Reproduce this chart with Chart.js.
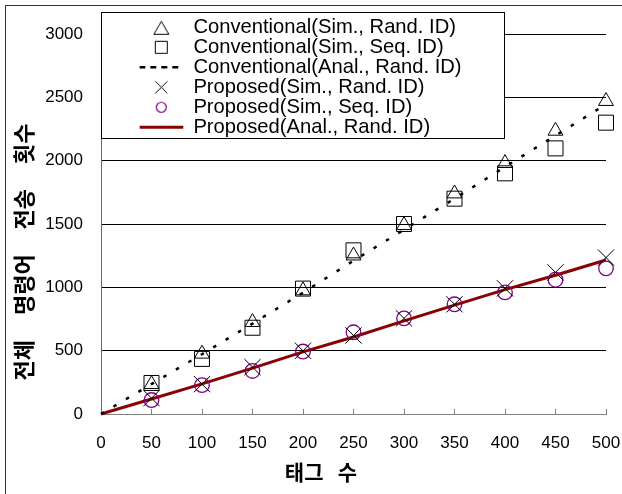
<!DOCTYPE html>
<html>
<head>
<meta charset="utf-8">
<script src="https://cdn.jsdelivr.net/npm/chart.js@4.4.1/dist/chart.umd.min.js"></script>
<style>
  html, body { margin: 0; padding: 0; background: #ffffff; }
  #wrap { width: 622px; height: 494px; position: relative; }
</style>
</head>
<body>
<div id="wrap"><canvas id="c" width="622" height="494"></canvas></div>
<script>
// ---------------- data ----------------
const tagCounts      = [50, 100, 150, 200, 250, 300, 350, 400, 450, 500];
const analTagCounts  = [0, 50, 100, 150, 200, 250, 300, 350, 400, 450, 500];
const convSimRand    = [235, 475, 725, 975, 1250, 1490, 1740, 1980, 2235, 2470];
const convSimSeq     = [245, 435, 681, 990, 1292, 1500, 1700, 1900, 2097, 2300];
const convAnalRand   = [0, 236, 472, 714, 958, 1210, 1455, 1700, 1951, 2198, 2445];
const propSimRand    = [125, 236, 370, 499, 620, 755, 866, 992, 1118, 1235];
const propSimSeq     = [110, 228, 340, 493, 645, 755, 866, 960, 1060, 1150];
const propAnalRand   = [0, 118, 238, 362, 490, 608, 735, 860, 982, 1095, 1216];
const seriesLabels = [
  'Conventional(Sim., Rand. ID)',
  'Conventional(Sim., Seq. ID)',
  'Conventional(Anal., Rand. ID)',
  'Proposed(Sim., Rand. ID)',
  'Proposed(Sim., Seq. ID)',
  'Proposed(Anal., Rand. ID)'
];
const xTickValues = [0, 50, 100, 150, 200, 250, 300, 350, 400, 450, 500];
const yTickValues = [0, 500, 1000, 1500, 2000, 2500, 3000];
const xTitle = '태그   수';
const yTitle = '전체     명령어     전송     횟수';

// ---------------- helpers ----------------
function pairs(xs, ys) { return xs.map((x, i) => ({ x: x, y: ys[i] })); }
// small legend marker images (19x19, centred on 9.5)
function markerImg(kind, color, lw) {
  const c = document.createElement('canvas');
  c.width = 19; c.height = 19;
  const g = c.getContext('2d');
  g.strokeStyle = color; g.lineWidth = lw;
  g.beginPath();
  if (kind === 'triangle') {
    g.moveTo(9.5, 3.5); g.lineTo(17, 16.5); g.lineTo(2, 16.5); g.closePath();
  } else if (kind === 'square') {
    g.rect(3.5, 3.5, 12, 12);
  } else if (kind === 'cross') {
    g.moveTo(3.5, 3.5); g.lineTo(15.5, 15.5); g.moveTo(15.5, 3.5); g.lineTo(3.5, 15.5);
  } else if (kind === 'circle') {
    g.arc(9.5, 9.5, 5, 0, Math.PI * 2);
  }
  g.stroke();
  return c;
}

Chart.defaults.font.family = '"Liberation Sans", Arial, sans-serif';
Chart.defaults.color = '#000';

const LEGEND_FRAME = { x: 101, y: 12, w: 403, h: 126 };

const layoutPlugin = {
  id: 'layoutPlugin',
  afterLayout(chart) {
    const lg = chart.legend;
    if (!lg) return;
    lg.left = 139.5; lg.top = 17.4;
    lg.width = 370; lg.height = 130;
    lg.right = lg.left + lg.width; lg.bottom = lg.top + lg.height;
  },
  afterDatasetsDraw(chart) {
    const ctx = chart.ctx;
    const f = LEGEND_FRAME;
    ctx.save();
    ctx.fillStyle = '#ffffff';
    ctx.fillRect(f.x, f.y, f.w, f.h);
    ctx.strokeStyle = '#000000';
    ctx.lineWidth = 1;
    ctx.strokeRect(f.x + 0.5, f.y + 0.5, f.w, f.h);
    ctx.restore();
    if (chart.legend) chart.legend.draw();
  },
  afterDraw(chart) {
    const ctx = chart.ctx;
    ctx.save();
    ctx.strokeStyle = '#333333';
    ctx.lineWidth = 1;
    ctx.strokeRect(5.5, 5.5, 700, 600);
    ctx.fillStyle = '#000000';
    ctx.textAlign = 'center';
    ctx.textBaseline = 'middle';
    ctx.font = 'bold 21px "Noto Sans CJK KR", sans-serif';
    ctx.fillText(xTitle, 321, 472);
    ctx.translate(24, 252);
    ctx.rotate(-Math.PI / 2);
    ctx.font = 'bold 22px "Noto Sans CJK KR", sans-serif';
    ctx.fillText(yTitle, 0, 0);
    ctx.restore();
  }
};

const legTri = markerImg('triangle', '#000000', 1);
const legSq  = markerImg('square', '#000000', 1);
const legX   = markerImg('cross', '#000000', 1);
const legCi  = markerImg('circle', '#800080', 1.2);

const cfg = {
  type: 'scatter',
  data: {
    datasets: [
      { label: seriesLabels[0], data: pairs(tagCounts, convSimRand), showLine: false,
        pointStyle: 'triangle', pointRadius: 8.6, pointHoverRadius: 8.6,
        borderColor: '#000000', backgroundColor: 'rgba(0,0,0,0)', borderWidth: 1, clip: false },
      { label: seriesLabels[1], data: pairs(tagCounts, convSimSeq), showLine: false,
        pointStyle: 'rect', pointRadius: 10.6, pointHoverRadius: 10.6,
        borderColor: '#000000', backgroundColor: 'rgba(0,0,0,0)', borderWidth: 1, clip: false },
      { label: seriesLabels[2], data: pairs(analTagCounts, convAnalRand), showLine: true,
        pointStyle: 'line', pointRadius: 0, pointHoverRadius: 0,
        borderColor: '#000000', backgroundColor: 'rgba(0,0,0,0)', borderWidth: 2.5,
        borderDash: [3.5, 11], tension: 0, clip: false },
      { label: seriesLabels[3], data: pairs(tagCounts, propSimRand), showLine: false,
        pointStyle: 'crossRot', pointRadius: 11.5, pointHoverRadius: 11.5,
        borderColor: '#000000', backgroundColor: 'rgba(0,0,0,0)', borderWidth: 1, clip: false },
      { label: seriesLabels[4], data: pairs(tagCounts, propSimSeq), showLine: false,
        pointStyle: 'circle', pointRadius: 7.3, pointHoverRadius: 7.3,
        borderColor: '#800080', backgroundColor: 'rgba(0,0,0,0)', borderWidth: 1.3, clip: false },
      { label: seriesLabels[5], data: pairs(analTagCounts, propAnalRand), showLine: true,
        pointStyle: 'line', pointRadius: 0, pointHoverRadius: 0,
        borderColor: '#8b0000', backgroundColor: 'rgba(0,0,0,0)', borderWidth: 3, tension: 0, clip: false }
    ]
  },
  options: {
    responsive: false,
    animation: false,
    devicePixelRatio: 1,
    events: [],
    layout: { padding: { top: 34, right: 16, bottom: 0, left: 0 } },
    plugins: {
      tooltip: { enabled: false },
      title: { display: false },
      legend: {
        display: true,
        position: 'chartArea',
        align: 'start',
        labels: {
          usePointStyle: true,
          pointStyleWidth: 44,
          boxHeight: 12,
          padding: -0.2,
          color: '#000000',
          font: { size: 20.2, family: '"Liberation Sans", Arial, sans-serif' },
          generateLabels(chart) {
            const items = Chart.defaults.plugins.legend.labels.generateLabels(chart);
            items[0].pointStyle = legTri;
            items[1].pointStyle = legSq;
            items[3].pointStyle = legX;
            items[4].pointStyle = legCi;
            items[2].lineDash = [6, 5];
            items[2].lineWidth = 2.5;
            items[5].lineWidth = 3;
            return items;
          }
        }
      }
    },
    scales: {
      x: {
        type: 'linear',
        min: 0, max: 500,
        afterBuildTicks(s) { s.ticks = xTickValues.map(v => ({ value: v })); },
        afterFit(s) { s.height = 80; s.paddingRight = 14; s.paddingLeft = 6; },
        grid: { display: true, drawOnChartArea: false, drawTicks: true, tickLength: -5, color: '#808080', lineWidth: 1 },
        border: { display: true, color: '#808080', width: 1 },
        ticks: { font: { size: 17 }, color: '#000000', padding: 24, maxRotation: 0, autoSkip: false,
                 callback: v => String(v) }
      },
      y: {
        type: 'linear',
        min: 0, max: 3000,
        afterBuildTicks(s) { s.ticks = yTickValues.map(v => ({ value: v })); },
        afterFit(s) { s.width = 101; s.paddingTop = 10; s.paddingBottom = 10; },
        grid: { display: true, drawOnChartArea: true, drawTicks: false, color: '#000000', lineWidth: 1 },
        border: { display: true, color: '#666666', width: 1 },
        ticks: { font: { size: 17 }, color: '#000000', padding: 18, autoSkip: false,
                 callback: v => String(v) }
      }
    }
  },
  plugins: [layoutPlugin]
};

new Chart(document.getElementById('c'), cfg);
</script>
</body>
</html>
